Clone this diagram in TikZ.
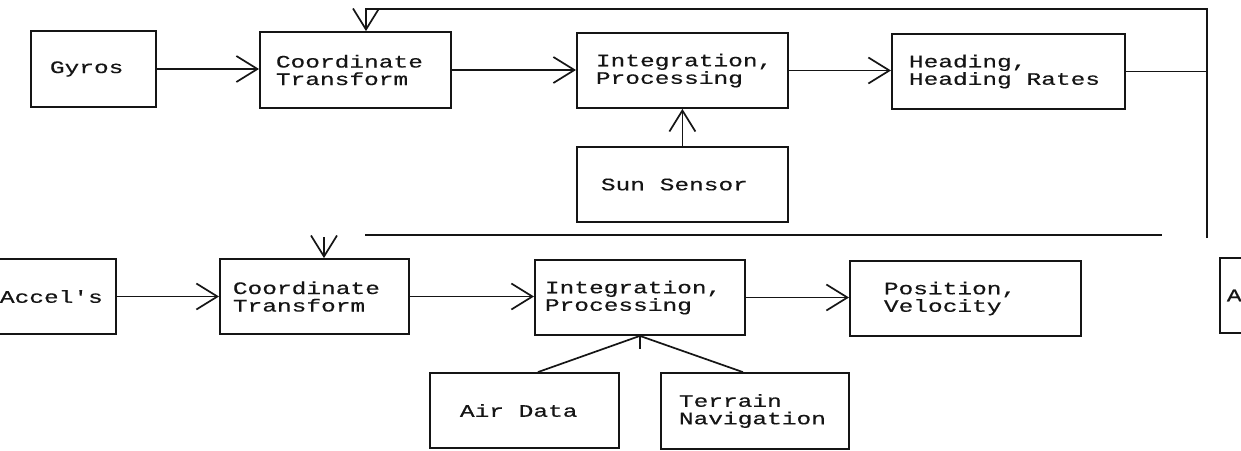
\documentclass[tikz,border=0pt]{standalone}
\usepackage{fontspec}
\setmonofont{Liberation Mono}[FakeStretch=1.4, FakeBold=0.4]
\usetikzlibrary{arrows.meta}
\definecolor{ink}{HTML}{151515}

\tikzset{
  blk/.style={draw=ink, line width=1.8pt, anchor=west, align=left, inner ysep=0pt,
    font=\ttfamily\fontsize{17.5}{17.5}\selectfont, text=ink,
    execute at begin node={\spaceskip=14.7pt\relax}},
  conn/.style={draw=ink, line width=1.7pt, -{Straight Barb[length=21pt, width=26pt, line width=1.7pt]}},
  wire/.style={draw=ink, line width=1.7pt}
}

\begin{document}
\begin{tikzpicture}[x=1pt, y=-1pt]
\useasboundingbox[fill=white] (0,0) rectangle (1241,450);
\clip (0,0) rectangle (1241,450);

% gyro chain
\node[blk, minimum height=76pt, text width=87pt,  inner xsep=19pt] (gyros) at (30,69)    {Gyros};
\node[blk, minimum height=76pt, text width=159pt, inner xsep=16pt] (ctA)   at (259,70)   {Coordinate\\Transform};
\node[blk, minimum height=75pt, text width=173pt, inner xsep=19pt] (intA)  at (576,70.5) {Integration,\\Processing};
\node[blk, minimum height=75pt, text width=199pt, inner xsep=17pt] (head)  at (891,71.5) {Heading,\\Heading Rates};
\node[blk, minimum height=75pt, text width=163pt, inner xsep=24pt] (sun)   at (576,184.5) {Sun Sensor};

% accelerometer chain
\node[blk, minimum height=75pt, text width=102pt, inner xsep=14pt] (acc)   at (-15,296.5) {Accel's};
\node[blk, minimum height=75pt, text width=163pt, inner xsep=13pt] (ctB)   at (219,296.5) {Coordinate\\Transform};
\node[blk, minimum height=75pt, text width=190pt, inner xsep=10pt] (intB)  at (534,297.5) {Integration,\\Processing};
\node[blk, minimum height=75pt, text width=163pt, inner xsep=34pt] (pos)   at (849,298.5) {Position,\\Velocity};
\node[blk, minimum height=75pt, text width=86pt,  inner xsep=7pt]  (altA)  at (1219,295.5) {A};
\node[blk, minimum height=75pt, text width=129pt, inner xsep=30pt] (air)   at (429,410.5) {Air Data};
\node[blk, minimum height=76pt, text width=152pt, inner xsep=18pt] (terr)  at (660,411)   {Terrain\\Navigation};

\coordinate (fbTop) at (1207,9);
\coordinate (fbBot) at (1207,238);
\coordinate (fbA)   at (366,9);
\coordinate (seamL) at (365,235);
\coordinate (seamR) at (1162,235);
\coordinate (fbB)   at (324,237);

\draw[conn] (gyros.east) -- (gyros.east -| ctA.west);
\draw[conn] (ctA.east) -- (ctA.east -| intA.west);
\draw[conn] (intA.east) -- (intA.east -| head.west);
\draw[conn] (sun.north) -- (intA.south);
\draw[wire] (head.east) -- (head.east -| fbTop);
\draw[conn] (fbBot) -- (fbTop) -- (fbA) -- (fbA |- ctA.north);

\draw[wire] (seamL) -- (seamR);
\draw[conn] (fbB) -- (fbB |- ctB.north);
\draw[conn] (acc.east) -- (acc.east -| ctB.west);
\draw[conn] (ctB.east) -- (ctB.east -| intB.west);
\draw[conn] (intB.east) -- (intB.east -| pos.west);
\draw[wire] ([xshift=13.5pt]air.north) -- (intB.south);
\draw[wire] ([xshift=-12pt]terr.north) -- (intB.south);
\draw[wire] (intB.south) -- ++(0,13);
\end{tikzpicture}
\end{document}
